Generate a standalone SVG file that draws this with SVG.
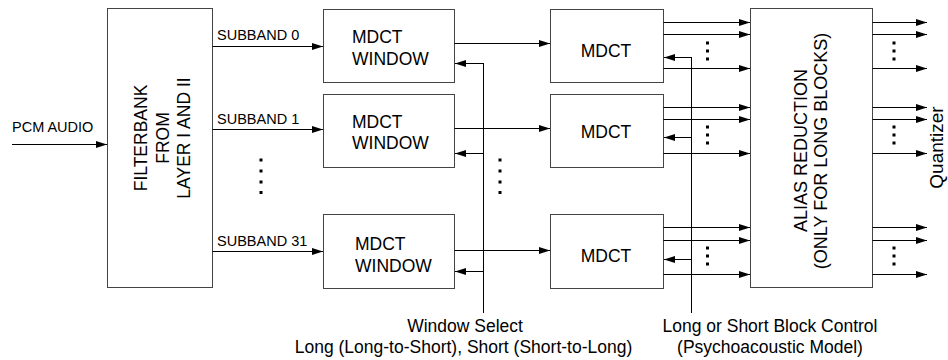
<svg xmlns="http://www.w3.org/2000/svg" width="948" height="360" viewBox="0 0 948 360">
  <defs>
    <marker id="arrow" markerUnits="userSpaceOnUse" markerWidth="11" markerHeight="7" refX="11" refY="3.5" orient="auto">
      <path d="M0,0 L11,3.5 L0,7 z" fill="#000"/>
    </marker>
    <style>
      .box { fill: #fff; stroke: #444; stroke-width: 1; }
      .lbl { font-family: "Liberation Sans", Arial, sans-serif; font-size: 17.5px; fill: #000; }
      .small { font-family: "Liberation Sans", Arial, sans-serif; font-size: 14.5px; fill: #000; }
      .mid { text-anchor: middle; }
      .wire { fill: none; stroke: #000; stroke-width: 1; }
      .arr { fill: none; stroke: #000; stroke-width: 1; marker-end: url(#arrow); }
      .dot { fill: #000; }
    </style>
  </defs>

  <!-- input label -->
  <text class="small" x="12" y="132">PCM AUDIO</text>

  <!-- polyphase filterbank -->
  <g id="filterbank">
    <rect class="box" x="107.5" y="8.5" width="105" height="279"/>
    <text class="lbl mid" transform="translate(146.5,138) rotate(-90)">FILTERBANK</text>
    <text class="lbl mid" transform="translate(168.5,138) rotate(-90)">FROM</text>
    <text class="lbl mid" transform="translate(190,138) rotate(-90)">LAYER I AND II</text>
  </g>

  <!-- window stage -->
  <g id="window0">
    <rect class="box" x="323.5" y="9.5" width="131" height="73"/>
    <text class="lbl" x="352" y="43">MDCT</text>
    <text class="lbl" x="352" y="65">WINDOW</text>
  </g>
  <g id="window1">
    <rect class="box" x="323.5" y="94.5" width="131" height="73"/>
    <text class="lbl" x="352" y="127.5">MDCT</text>
    <text class="lbl" x="352" y="149">WINDOW</text>
  </g>
  <g id="window31">
    <rect class="box" x="323.5" y="214.5" width="131" height="74"/>
    <text class="lbl" x="355" y="250">MDCT</text>
    <text class="lbl" x="355" y="271.5">WINDOW</text>
  </g>

  <!-- transform stage -->
  <g id="mdct0">
    <rect class="box" x="550.5" y="9.5" width="113" height="73"/>
    <text class="lbl mid" x="606" y="57">MDCT</text>
  </g>
  <g id="mdct1">
    <rect class="box" x="550.5" y="94.5" width="113" height="73"/>
    <text class="lbl mid" x="606" y="138">MDCT</text>
  </g>
  <g id="mdct31">
    <rect class="box" x="550.5" y="214.5" width="113" height="74"/>
    <text class="lbl mid" x="606" y="262">MDCT</text>
  </g>

  <!-- butterfly stage -->
  <g id="alias-reduction">
    <rect class="box" x="750.5" y="8.5" width="122" height="279"/>
    <text class="lbl mid" style="font-size:18px" transform="translate(807,150.5) rotate(-90)">ALIAS REDUCTION</text>
    <text class="lbl mid" style="font-size:18px" transform="translate(827,151) rotate(-90)">(ONLY FOR LONG BLOCKS)</text>
  </g>

  <!-- output label -->
  <text class="lbl mid" style="font-size:19px" transform="translate(943,147.5) rotate(-90)">Quantizer</text>

  <!-- control labels -->
  <text class="lbl mid" x="465" y="332">Window Select</text>
  <text class="lbl mid" x="463.5" y="353">Long (Long-to-Short), Short (Short-to-Long)</text>
  <text class="lbl mid" x="770" y="332">Long or Short Block Control</text>
  <text class="lbl mid" x="770" y="353">(Psychoacoustic Model)</text>

  <g id="connectors">
    <!-- audio in -->
    <path class="arr" d="M12,144.5 H107"/>
    <!-- subbands -->
    <path class="arr" d="M212.5,46.5 H323"/>
    <path class="arr" d="M212.5,129.5 H323"/>
    <path class="arr" d="M212.5,251.5 H323"/>
    <text class="small" x="217" y="40">SUBBAND 0</text>
    <text class="small" x="217" y="124">SUBBAND 1</text>
    <text class="small" x="217" y="246">SUBBAND 31</text>
    <!-- window to mdct -->
    <path class="arr" d="M454.5,43.5 H550"/>
    <path class="arr" d="M454.5,128.5 H550"/>
    <path class="arr" d="M454.5,250.5 H550"/>
    <!-- window select bus -->
    <path class="wire" d="M483.5,63 V313"/>
    <path class="arr" d="M483.5,63.5 H455"/>
    <path class="arr" d="M483.5,153.5 H455"/>
    <path class="arr" d="M483.5,271.5 H455"/>
    <!-- mdct to alias reduction -->
    <path class="arr" d="M663.5,22.5 H750"/>
    <path class="arr" d="M663.5,34.5 H750"/>
    <path class="arr" d="M663.5,68.5 H750"/>
    <path class="arr" d="M663.5,107.5 H750"/>
    <path class="arr" d="M663.5,119.5 H750"/>
    <path class="arr" d="M663.5,153.5 H750"/>
    <path class="arr" d="M663.5,227.5 H750"/>
    <path class="arr" d="M663.5,240.5 H750"/>
    <path class="arr" d="M663.5,274.5 H750"/>
    <!-- block control bus -->
    <path class="wire" d="M691.5,57 V313"/>
    <path class="arr" d="M691.5,57.5 H664"/>
    <path class="arr" d="M691.5,137.5 H664"/>
    <path class="arr" d="M691.5,259.5 H664"/>
    <!-- alias reduction outputs -->
    <path class="arr" d="M872.5,22.5 H927"/>
    <path class="arr" d="M872.5,34.5 H927"/>
    <path class="arr" d="M872.5,68.5 H927"/>
    <path class="arr" d="M872.5,107.5 H927"/>
    <path class="arr" d="M872.5,119.5 H927"/>
    <path class="arr" d="M872.5,153.5 H927"/>
    <path class="arr" d="M872.5,227.5 H927"/>
    <path class="arr" d="M872.5,240.5 H927"/>
    <path class="arr" d="M872.5,274.5 H927"/>
  </g>

  <!-- vertical ellipses -->
  <g id="ellipses" class="dot">
    <rect x="259.5" y="158.5" width="3" height="3"/>
    <rect x="259.5" y="169.5" width="3" height="3"/>
    <rect x="259.5" y="180.5" width="3" height="3"/>
    <rect x="259.5" y="191" width="3" height="3"/>

    <rect x="498.5" y="158.5" width="3" height="3"/>
    <rect x="498.5" y="169.5" width="3" height="3"/>
    <rect x="498.5" y="180.5" width="3" height="3"/>
    <rect x="498.5" y="191" width="3" height="3"/>

    <rect x="706" y="41.5" width="3" height="3"/>
    <rect x="706" y="49.5" width="3" height="3"/>
    <rect x="706" y="57.5" width="3" height="3"/>
    <rect x="706" y="125.5" width="3" height="3"/>
    <rect x="706" y="133.5" width="3" height="3"/>
    <rect x="706" y="141.5" width="3" height="3"/>
    <rect x="706" y="246.5" width="3" height="3"/>
    <rect x="706" y="254.5" width="3" height="3"/>
    <rect x="706" y="262.5" width="3" height="3"/>

    <rect x="892.5" y="41.5" width="3" height="3"/>
    <rect x="892.5" y="49.5" width="3" height="3"/>
    <rect x="892.5" y="57.5" width="3" height="3"/>
    <rect x="892.5" y="125.5" width="3" height="3"/>
    <rect x="892.5" y="133.5" width="3" height="3"/>
    <rect x="892.5" y="141.5" width="3" height="3"/>
    <rect x="892.5" y="246.5" width="3" height="3"/>
    <rect x="892.5" y="254.5" width="3" height="3"/>
    <rect x="892.5" y="262.5" width="3" height="3"/>
  </g>
</svg>
